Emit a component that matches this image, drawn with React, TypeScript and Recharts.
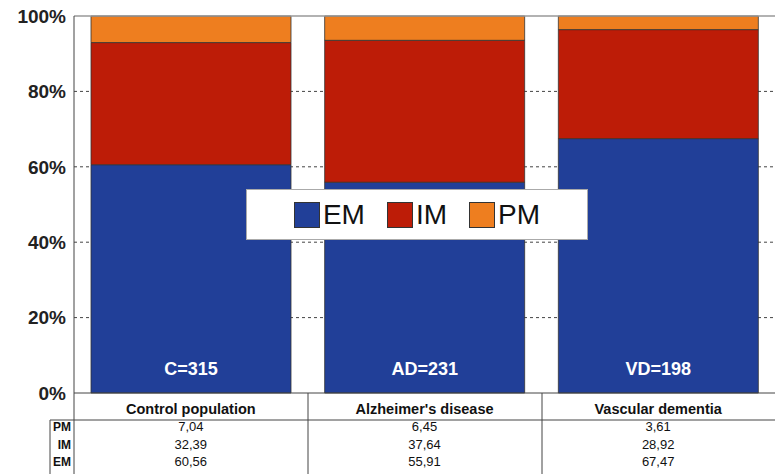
import { BarChart, Bar, XAxis, YAxis, CartesianGrid, ReferenceLine, Legend, LabelList } from 'recharts';

const groups = ['Control population', "Alzheimer's disease", 'Vascular dementia'];
const sampleSizes = ['C=315', 'AD=231', 'VD=198'];
const emValues = [60.56, 55.91, 67.47];
const imValues = [32.39, 37.64, 28.92];
const pmValues = [7.04, 6.45, 3.61];
const yTicks = [0, 20, 40, 60, 80, 100];

const series = [
  { key: 'EM', color: '#213f98', values: emValues },
  { key: 'IM', color: '#bd1c07', values: imValues },
  { key: 'PM', color: '#ee7e1f', values: pmValues },
];

// table rows are listed top-down: PM, IM, EM
const tableRows = [...series].reverse();

const data = groups.map((name, i) => ({
  name,
  sample: sampleSizes[i],
  EM: emValues[i],
  IM: imValues[i],
  PM: pmValues[i],
}));

const FONT = '"Liberation Sans", Arial, sans-serif';
const NARROW = '"Liberation Sans Narrow", "Arial Narrow", "Liberation Sans", Arial, sans-serif';

const fmt = (v: number) => v.toFixed(2).replace('.', ',');

function TableTick(props: any) {
  const { x, y, payload, index } = props;
  return (
    <g>
      <text x={x} y={y + 21} textAnchor="middle" fontFamily={FONT} fontWeight="bold" fontSize={14.5} fill="#111">
        {payload.value}
      </text>
      {tableRows.map((s, r) => (
        <text
          key={s.key}
          x={x}
          y={y + 38 + r * 17.5}
          textAnchor="middle"
          fontFamily={NARROW}
          fontSize={13}
          fill="#111"
        >
          {fmt(s.values[index])}
        </text>
      ))}
    </g>
  );
}

function LegendBox(props: any) {
  const { payload } = props;
  return (
    <div
      style={{
        background: '#fff',
        border: '1px solid #aaa',
        height: 51,
        boxSizing: 'border-box',
        display: 'flex',
        alignItems: 'center',
        justifyContent: 'center',
        gap: 22,
        fontFamily: FONT,
      }}
    >
      {payload.map((p: any) => (
        <div key={p.value} style={{ display: 'flex', alignItems: 'center' }}>
          <span
            style={{
              width: 26,
              height: 26,
              background: p.color,
              border: '1px solid #333',
              boxSizing: 'border-box',
              marginRight: 3,
            }}
          />
          <span style={{ fontSize: 28, color: '#111', lineHeight: '28px' }}>{p.value}</span>
        </div>
      ))}
    </div>
  );
}

export default function App() {
  return (
    <div style={{ position: 'absolute', left: 0, top: 0, width: 775, height: 474, background: '#fff' }}>
      <BarChart
        width={775}
        height={474}
        data={data}
        margin={{ top: 16, right: 0, left: 0, bottom: 0 }}
        barCategoryGap={17}
        style={{ fontFamily: FONT }}
      >
        <CartesianGrid
          vertical={false}
          horizontalValues={[20, 40, 60, 80]}
          stroke="#444"
          strokeDasharray="3 3"
        />
        <ReferenceLine y={100} stroke="#999" strokeWidth={1.5} />
        <XAxis
          dataKey="name"
          height={81}
          axisLine={{ stroke: '#444' }}
          tickLine={false}
          tickSize={0}
          tickMargin={0}
          interval={0}
          tick={<TableTick />}
        />
        <YAxis
          width={74}
          domain={[0, 100]}
          ticks={yTicks}
          tickFormatter={(v) => `${v}%`}
          axisLine={{ stroke: '#444' }}
          tickLine={false}
          tickSize={0}
          tickMargin={8}
          tick={{ fill: '#222', fontSize: 19, fontWeight: 'bold' }}
        />
        <Legend
          layout="horizontal"
          verticalAlign="middle"
          align="center"
          wrapperStyle={{ left: 246, top: 189, width: 342, height: 51 }}
          content={<LegendBox />}
        />
        {series.map((s) => (
          <Bar
            key={s.key}
            dataKey={s.key}
            stackId="a"
            fill={s.color}
            stroke="#333"
            strokeWidth={0.8}
            isAnimationActive={false}
          >
            {s.key === 'EM' && (
              <LabelList
                dataKey="sample"
                position="insideBottom"
                offset={18}
                fill="#fff"
                fontSize={18}
                fontWeight="bold"
              />
            )}
          </Bar>
        ))}
      </BarChart>
      {/* table grid and row labels below the plot */}
      <svg width={775} height={474} style={{ position: 'absolute', left: 0, top: 0, pointerEvents: 'none' }}>
        <line x1={74} y1={393} x2={74} y2={474} stroke="#444" />
        <line x1={308} y1={393} x2={308} y2={474} stroke="#444" />
        <line x1={542} y1={393} x2={542} y2={474} stroke="#444" />
        <line x1={50} y1={420} x2={775} y2={420} stroke="#444" />
        <line x1={50} y1={420} x2={50} y2={474} stroke="#444" />
        {tableRows.map((s, r) => (
          <text
            key={s.key}
            x={71}
            y={431 + r * 17.5}
            textAnchor="end"
            fontFamily={NARROW}
            fontWeight="bold"
            fontSize={12}
            fill="#111"
          >
            {s.key}
          </text>
        ))}
      </svg>
    </div>
  );
}
